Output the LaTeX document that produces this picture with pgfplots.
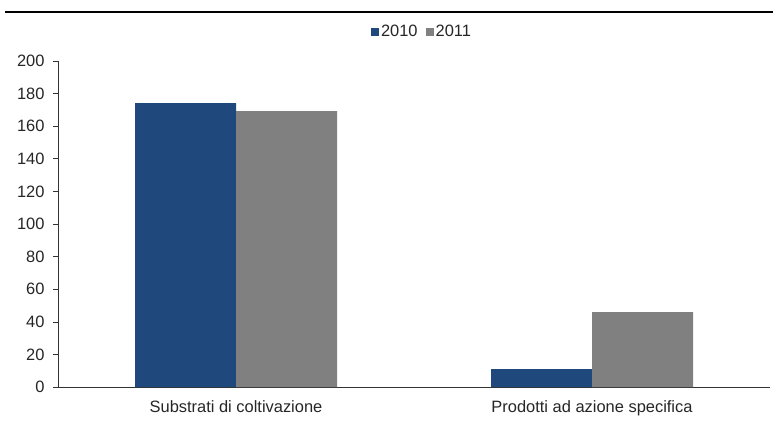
\documentclass[border=0pt]{standalone}
\usepackage{pgfplots}
\pgfplotsset{compat=1.18}
\usepackage{fontspec}
\setmainfont{Liberation Sans}
\definecolor{cblue}{HTML}{1F497D}
\definecolor{cgray}{HTML}{808080}
\begin{document}
\begin{tikzpicture}[x=1bp,y=1bp]
\useasboundingbox (0,0) rectangle (773,429);
\draw[line width=2.2bp] (5,417) -- (773,417);
\begin{axis}[
  at={(58bp,42bp)}, anchor=south west,
  scale only axis, width=712bp, height=326bp,
  ybar, bar width=101bp,
  ymin=0, ymax=200, ytick={0,20,...,200},
  xmin=-0.5, xmax=1.5, xtick={0,1},
  xticklabels={Substrati di coltivazione, Prodotti ad azione specifica},
  axis x line=bottom, axis y line=left,
  axis line style={-, black!80, line width=0.6bp},
  major x tick style={draw=none},
  y tick style={black!80, line width=0.6bp},
  tick align=outside, major tick length=5bp,
  ticklabel style={font=\fontsize{16.5}{18}\selectfont, text=black!85},
  /pgf/number format/assume math mode=true,
  yticklabel style={xshift=-5bp},
  xticklabel style={yshift=-5bp},
  legend style={at={(0.5,1)}, anchor=center, yshift=29bp, xshift=8bp, draw=none, legend columns=2,
    font=\fontsize{16.5}{18}\selectfont, text=black!85,
    /tikz/every odd column/.append style={column sep=0bp},
    /tikz/every even column/.append style={column sep=6bp}},
  legend image code/.code={\fill[#1] (0bp,-4bp) rectangle (8bp,4bp);},
]
\addplot[ybar, fill=cblue, draw=none, bar shift=-50.5bp] coordinates {(0,174.2) (1,11)};
\addplot[ybar, fill=cgray, draw=none, bar shift=50.5bp] coordinates {(0,169.3) (1,46)};
\legend{2010,2011}
\end{axis}
\end{tikzpicture}
\end{document}
